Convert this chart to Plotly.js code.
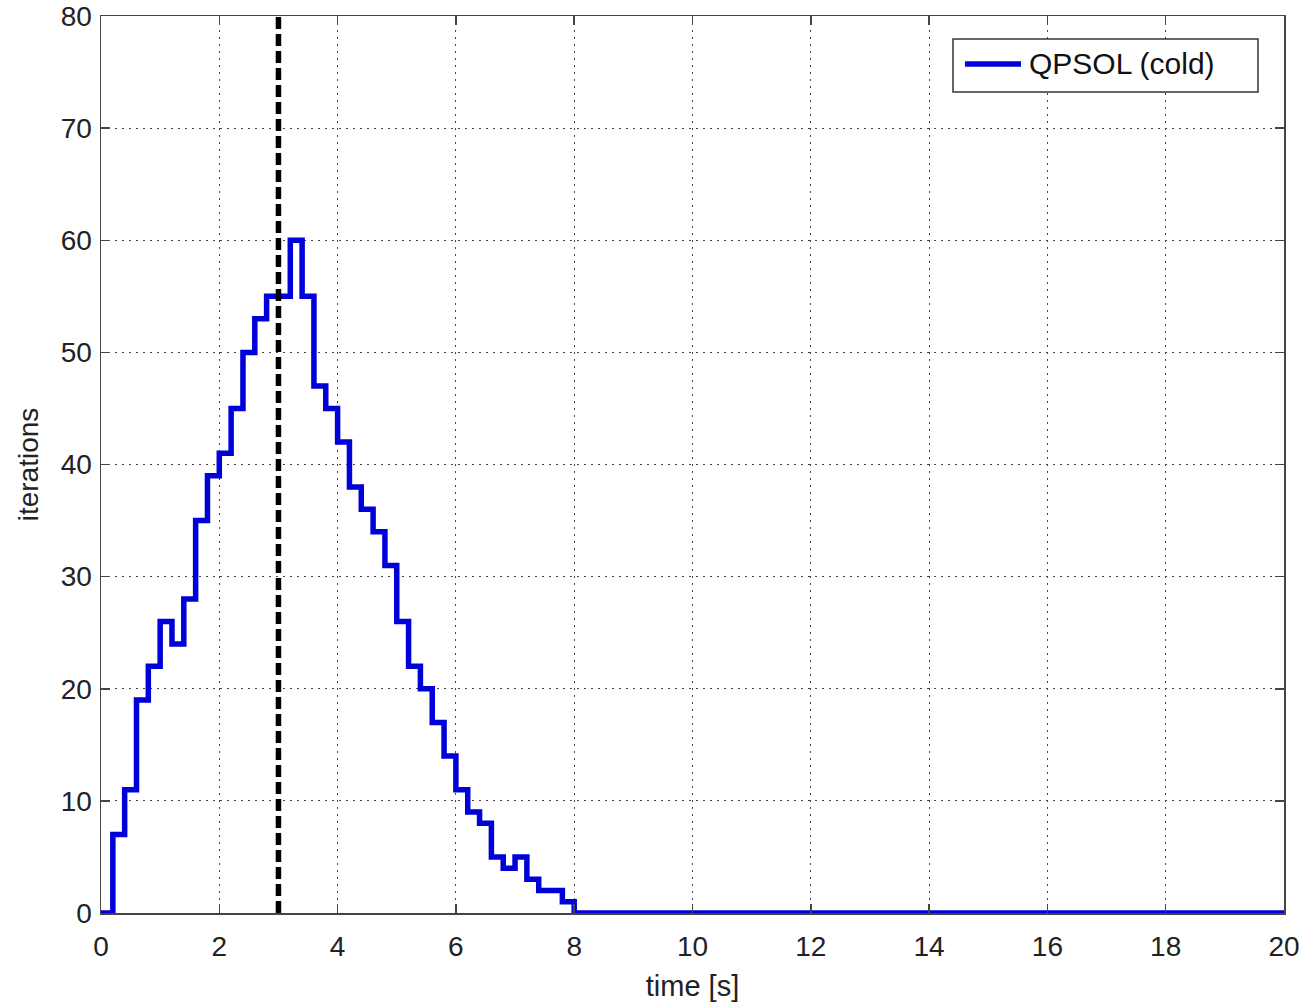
<!DOCTYPE html>
<html>
<head>
<meta charset="utf-8">
<script src="https://cdn.plot.ly/plotly-3.0.1.min.js"></script>
<style>html,body{margin:0;padding:0;background:#fff;}#chart{width:1305px;height:1008px;}</style>
</head>
<body>
<div id="chart"></div>
<script>
// Sampled time instants [s] (stairs)
const timeS = [0, 0.2, 0.4, 0.6, 0.8, 1.0, 1.2, 1.4, 1.6, 1.8, 2.0, 2.2, 2.4, 2.6, 2.8, 3.0,
  3.2, 3.4, 3.6, 3.8, 4.0, 4.2, 4.4, 4.6, 4.8, 5.0, 5.2, 5.4, 5.6, 5.8, 6.0,
  6.2, 6.4, 6.6, 6.8, 7.0, 7.2, 7.4, 7.6, 7.8, 8.0, 20.0];
// QPSOL (cold) iteration counts
const iterations = [0, 7, 11, 19, 22, 26, 24, 28, 35, 39, 41, 45, 50, 53, 55, 55,
  60, 55, 47, 45, 42, 38, 36, 34, 31, 26, 22, 20, 17, 14, 11,
  9, 8, 5, 4, 5, 3, 2, 2, 1, 0, 0];
// Vertical dashed marker
const markerX = [3, 3];
const markerY = [0, 80];
const seriesName = 'QPSOL (cold)';
const xTicks = [0, 2, 4, 6, 8, 10, 12, 14, 16, 18, 20];
const yTicks = [0, 10, 20, 30, 40, 50, 60, 70, 80];

const fontFam = '"Liberation Sans", Arial, sans-serif';
const blue = '#0000d8';

const traces = [
  {
    x: timeS, y: iterations, type: 'scatter', mode: 'lines',
    line: {shape: 'hv', color: blue, width: 5.5},
    name: seriesName, showlegend: false
  },
  {
    x: markerX, y: markerY, type: 'scatter', mode: 'lines',
    line: {color: '#000000', width: 5.5, dash: '12px,5px'},
    showlegend: false, hoverinfo: 'skip'
  }
];

const axisCommon = {
  showline: true, linecolor: '#444', linewidth: 1.5, mirror: 'ticks',
  ticks: 'inside', ticklen: 9, tickcolor: '#444', tickwidth: 1.5,
  showgrid: true, gridcolor: '#444', griddash: '2px,5px', gridwidth: 1,
  zeroline: false,
  tickfont: {family: fontFam, size: 28, color: '#222'}
};

// Legend box geometry (paper fractions)
const lgX0 = 0.7202, lgX1 = 0.978, lgY0 = 0.9153, lgY1 = 0.9744, lgYm = 0.9465;

const layout = {
  width: 1305, height: 1008,
  margin: {l: 101, r: 21, t: 16, b: 95},
  paper_bgcolor: '#fff', plot_bgcolor: '#fff',
  showlegend: false,
  xaxis: Object.assign({}, axisCommon, {
    range: [0, 20], tickvals: xTicks, ticklabelstandoff: 8,
    title: {text: 'time [s]', font: {family: fontFam, size: 29, color: '#222'}, standoff: 14}
  }),
  yaxis: Object.assign({}, axisCommon, {
    range: [0, 80], tickvals: yTicks, ticklabelstandoff: 2,
    title: {text: 'iterations', font: {family: fontFam, size: 28, color: '#222'}, standoff: 14}
  }),
  shapes: [
    {type: 'rect', xref: 'paper', yref: 'paper', x0: lgX0, x1: lgX1, y0: lgY0, y1: lgY1,
     fillcolor: '#fff', line: {color: '#333', width: 1.5}, layer: 'above'},
    {type: 'line', xref: 'paper', yref: 'paper', x0: 0.7303, x1: 0.7777, y0: lgYm, y1: lgYm,
     line: {color: blue, width: 5.5}, layer: 'above'}
  ],
  annotations: [
    {xref: 'paper', yref: 'paper', x: 0.7828, y: lgYm, xanchor: 'left', yanchor: 'middle',
     text: seriesName, showarrow: false,
     font: {family: fontFam, size: 30, color: '#111'}}
  ]
};

Plotly.newPlot('chart', traces, layout, {displayModeBar: false, staticPlot: true});
</script>
</body>
</html>
